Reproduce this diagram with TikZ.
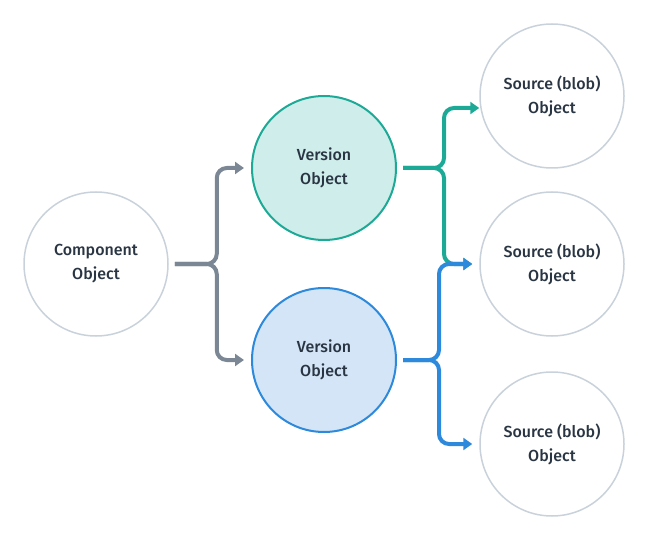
\documentclass[tikz,border=0pt]{standalone}
\usepackage{fontspec}
\setmainfont{Fira Sans}[UprightFont={* Medium}]
\usetikzlibrary{arrows.meta}
\definecolor{txtc}{HTML}{2A3543}
\definecolor{graycirc}{HTML}{C9D2DB}
\definecolor{grayarr}{HTML}{7B8794}
\definecolor{tealc}{HTML}{1CAA97}
\definecolor{tealfill}{HTML}{CFEDEA}
\definecolor{bluec}{HTML}{2D89DB}
\definecolor{bluefill}{HTML}{D3E5F6}
\tikzset{
  obj/.style={circle, minimum size=144pt, inner sep=0pt, align=center,
    text=txtc, font=\fontsize{16}{24}\selectfont},
  plainobj/.style={obj, draw=graycirc, line width=1.5pt, fill=white},
  tealobj/.style={obj, draw=tealc, line width=2pt, fill=tealfill},
  blueobj/.style={obj, draw=bluec, line width=2pt, fill=bluefill},
  conn/.style={line width=4pt, rounded corners=10pt,
    -{Triangle[length=9pt,width=12pt]}},
}
\begin{document}
\begin{tikzpicture}[x=1pt,y=-1pt]
\useasboundingbox (0,0) rectangle (648,540);
\node[plainobj] (comp) at (96,264) {Component\\Object};
\node[tealobj] (v1) at (324,168) {Version\\Object};
\node[blueobj] (v2) at (324,360) {Version\\Object};
\node[plainobj] (s1) at (552,96) {Source (blob)\\Object};
\node[plainobj] (s2) at (552,264) {Source (blob)\\Object};
\node[plainobj] (s3) at (552,444) {Source (blob)\\Object};
% gray
\draw[conn, grayarr] ([xshift=6pt]comp.east) -- ++(42,0) |- ([xshift=-7pt]v1.west);
\draw[conn, grayarr] ([xshift=6pt]comp.east) -- ++(42,0) |- ([xshift=-7pt]v2.west);
% teal
\draw[conn, tealc] ([xshift=6pt]v1.east) -- ++(41,0) |- ([yshift=-12pt]s1.west);
\draw[conn, tealc] ([xshift=6pt]v1.east) -- ++(41,0) |- ([xshift=-7pt]s2.west);
% blue
\draw[conn, bluec] ([xshift=6pt]v2.east) -- ++(36,0) |- ([xshift=-7pt]s2.west);
\draw[conn, bluec] ([xshift=6pt]v2.east) -- ++(36,0) |- ([xshift=-7pt]s3.west);
\end{tikzpicture}
\end{document}
